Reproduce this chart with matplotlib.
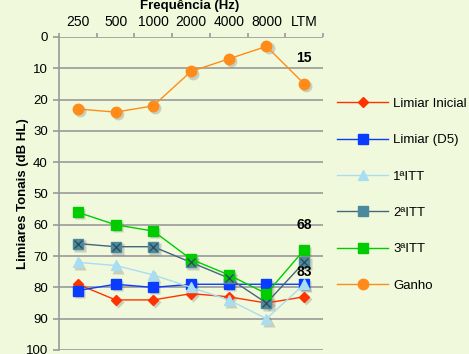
import matplotlib
matplotlib.use("Agg")
import matplotlib.pyplot as plt
import matplotlib.transforms as mtransforms
import numpy as np

plt.rcParams["font.family"] = ["Liberation Sans", "DejaVu Sans"]

freqs = ["250", "500", "1000", "2000", "4000", "8000", "LTM"]
limiar_inicial = [79, 84, 84, 82, 83, 85, 83]
limiar_d5 = [81, 79, 80, 79, 79, 79, 79]
itt1 = [72, 73, 76, 80, 84, 90, 79]
itt2 = [66, 67, 67, 72, 77, 85, 72]
itt3 = [56, 60, 62, 71, 76, 82, 68]
ganho = [23, 24, 22, 11, 7, 3, 15]

bg = "#F0F9DC"
grid_c = "#9A9A9A"

fig = plt.figure(figsize=(4.69, 3.54), dpi=100, facecolor=bg)
ax = fig.add_axes([0.1258, 0.0113, 0.563, 0.8842], facecolor=bg)

x = np.arange(len(freqs))
shadow_tr = mtransforms.offset_copy(ax.transData, fig=fig, x=1.5, y=-1.5, units="points")

def series(vals, color, marker, ms, label, mfc=None):
    # soft drop shadow under the markers
    ax.plot(x, vals, ls="none", marker=marker, ms=ms + 1, color="#555555",
            alpha=0.25, mec="none", transform=shadow_tr, zorder=2)
    ln, = ax.plot(x, vals, color=color, lw=1.0, marker=marker, ms=ms,
                  mfc=mfc or color, mec=mfc or color, label=label, zorder=3)
    return ln

h1 = series(limiar_inicial, "#FF3300", "D", 5.5, "Limiar Inicial")
h2 = series(limiar_d5, "#0A3CFF", "s", 6.5, "Limiar (D5)")
h3 = series(itt1, "#A9DDF2", "^", 7.5, "1ªITT")
h4 = series(itt2, "#46657A", "s", 7, "2ªITT", mfc="#4A8A9C")
ax.plot(x, itt2, ls="none", marker="x", ms=6, mew=1.0, color="#2E4E5E", zorder=4)
h5 = series(itt3, "#00CC00", "s", 6.5, "3ªITT")
h6 = series(ganho, "#FF8C1A", "o", 7.5, "Ganho")

# values called out on the LTM column
ax.text(x[-1], 6.7, str(ganho[-1]), ha="center", va="center", fontsize=10, fontweight="bold")
ax.text(x[-1], 60, str(itt3[-1]), ha="center", va="center", fontsize=10, fontweight="bold")
ax.text(x[-1], 75, str(limiar_inicial[-1]), ha="center", va="center", fontsize=10, fontweight="bold")

ax.set_xlim(-0.5, len(freqs) - 0.5)
ax.set_ylim(100, 0)
ax.set_yticks(range(0, 101, 10))
ax.yaxis.grid(True, color=grid_c, lw=1.2)
ax.set_axisbelow(True)

ax.xaxis.tick_top()
ax.set_xticks(x)
ax.set_xticklabels(freqs, fontsize=10)
ax.set_xticks(np.arange(-0.5, len(freqs)), minor=True)
ax.tick_params(axis="x", which="major", length=0, pad=6)
ax.tick_params(axis="x", which="minor", length=3, color=grid_c, width=1.2, top=True)
ax.tick_params(axis="y", length=4, color=grid_c, width=1.2, labelsize=9.5, pad=4)

ax.xaxis.set_label_position("top")
ax.set_xlabel("Frequência (Hz)", fontsize=9.5, fontweight="bold")
ax.xaxis.set_label_coords(0.496, 1.1)
ax.xaxis.label.set_va("center")
ax.set_ylabel("Limiares Tonais (dB HL)", fontsize=9.5, fontweight="bold")
ax.yaxis.set_label_coords(-0.136, 0.5)
ax.yaxis.label.set_va("center")

for s in ["right", "bottom", "top"]:
    ax.spines[s].set_visible(False)
ax.spines["left"].set_color(grid_c)
ax.spines["left"].set_linewidth(1.2)

fig.legend(handles=[h1, h2, h3, h4, h5, h6], loc="upper left",
           bbox_to_anchor=(0.694, 0.758), frameon=False, fontsize=9.5,
           handlelength=3.86, labelspacing=1.83, handletextpad=0.38)

fig.savefig("out.png", dpi=100, facecolor=bg)
